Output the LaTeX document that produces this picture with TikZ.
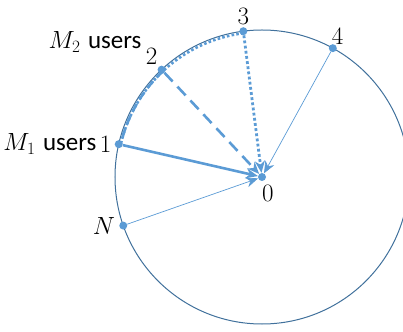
\documentclass[tikz,border=0pt]{standalone}
\usepackage{fontspec}
\newfontfamily\carlito{Carlito}
\usetikzlibrary{arrows.meta,positioning}
\definecolor{azzurro}{HTML}{5B9BD5}
\definecolor{cerchio}{HTML}{41719C}
\begin{document}
\begin{tikzpicture}[x=1pt, y=1pt, >={Stealth[length=12pt,width=10pt]},
    punto/.style={circle, fill=azzurro, inner sep=0pt, minimum size=8pt},
    etichetta/.style={font=\fontsize{25}{30}\selectfont, inner sep=1pt}]
    % Cornice
    \useasboundingbox (-262,-154) rectangle (141,177);
    \clip (-262,-154) rectangle (141,177);

    % Cerchio
    \draw[cerchio, line width=1pt] (0,0) circle[radius=147];

    % Punti
    \node[punto] (o)  at (0,0) {};
    \node[punto] (p1) at (167.1:147) {};
    \node[punto] (p2) at (133.1:147) {};
    \node[punto] (p3) at (97.3:147) {};
    \node[punto] (p4) at (61.2:147) {};
    \node[punto] (pN) at (199.3:147) {};

    % Archi sul bordo
    \draw[azzurro, line width=2.6pt, dash pattern=on 2.6pt off 2.2pt]
        (97.3:145) arc[start angle=97.3, end angle=167.1, radius=145];
    \draw[azzurro, line width=2.6pt, dash pattern=on 9pt off 5pt]
        (133.1:145) arc[start angle=133.1, end angle=167.1, radius=145];

    % Frecce verso 0
    \draw[->, azzurro, line width=2.6pt] (p1) -- (o);
    \draw[->, azzurro, line width=2.6pt, dash pattern=on 12pt off 7pt] (p2) -- (o);
    \draw[->, azzurro, line width=2.8pt, dash pattern=on 2.8pt off 2.4pt] (p3) -- (o);
    \draw[->, azzurro, line width=0.7pt] (p4) -- (o);
    \draw[->, azzurro, line width=0.7pt] (pN) -- (o);

    % Etichette
    \node[etichetta, below right=4pt and -4pt of o] (l0) {0};
    \node[etichetta, left=2pt of p1] (l1) {1};
    \node[etichetta, left=1pt of l1] (m1) {$M_1$ {\carlito users}};
    \node[etichetta, above left=1pt and 0pt of p2] (l2) {2};
    \node[etichetta, above left=-7pt and 2pt of l2] (m2) {$M_2$ {\carlito users}};
    \node[etichetta, above=1pt of p3] (l3) {3};
    \node[etichetta, above right=0pt and -5pt of p4] (l4) {4};
    \node[etichetta, left=3pt of pN] (lN) {$N$};
\end{tikzpicture}
\end{document}
